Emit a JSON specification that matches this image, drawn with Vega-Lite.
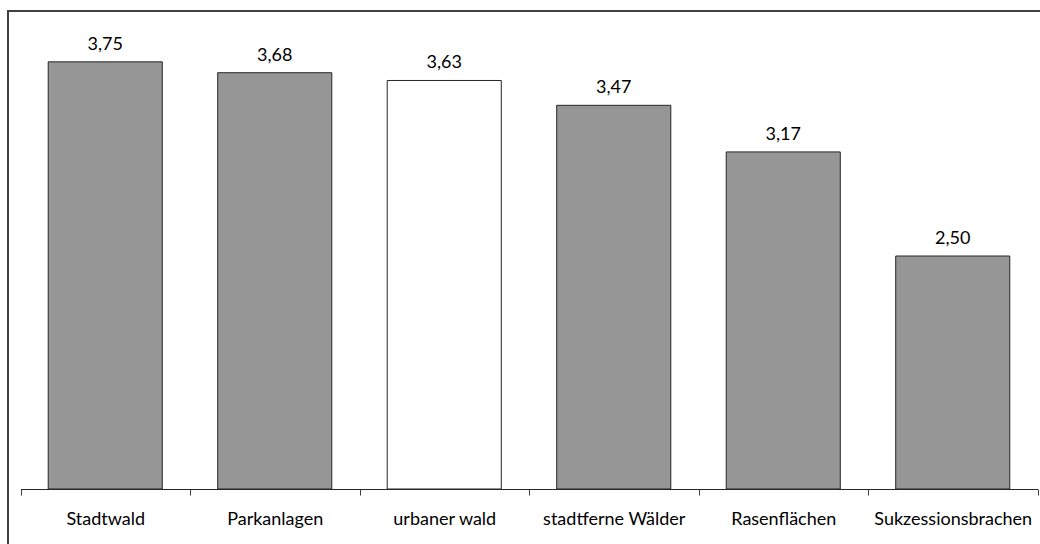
{
  "$schema": "https://vega.github.io/schema/vega-lite/v6.json",
  "autosize": {"type": "none"},
  "width": 1040,
  "height": 540,
  "padding": {"left": 8, "top": 11, "right": -8, "bottom": -7},
  "background": "white",
  "config": {
    "view": {"stroke": "#404040", "strokeWidth": 2},
    "locale": {"number": {"decimal": ",", "thousands": ".", "grouping": [3], "currency": ["", " €"]}},
    "font": "Lato"
  },
  "data": {
    "values": [
      {"Kategorie": "Stadtwald", "Wert": 3.75, "Typ": "a"},
      {"Kategorie": "Parkanlagen", "Wert": 3.68, "Typ": "a"},
      {"Kategorie": "urbaner wald", "Wert": 3.63, "Typ": "b"},
      {"Kategorie": "stadtferne Wälder", "Wert": 3.47, "Typ": "a"},
      {"Kategorie": "Rasenflächen", "Wert": 3.17, "Typ": "a"},
      {"Kategorie": "Sukzessionsbrachen", "Wert": 2.5, "Typ": "a"}
    ]
  },
  "encoding": {
    "x": {
      "field": "Kategorie",
      "type": "nominal",
      "sort": null,
      "scale": {"range": [12.5, 1029.5], "paddingInner": 0, "paddingOuter": 0},
      "axis": {
        "title": null,
        "grid": false,
        "labelAngle": 0,
        "tickBand": "extent",
        "offset": -62,
        "domainColor": "#262626",
        "domainWidth": 1,
        "tickColor": "#404040",
        "tickWidth": 1,
        "tickSize": 6,
        "labelFont": "Lato",
        "labelFontSize": 18,
        "labelColor": "#000000",
        "labelPadding": 15,
        "labelBaseline": "top"
      }
    },
    "y": {
      "field": "Wert",
      "type": "quantitative",
      "scale": {"domain": [1, 4], "range": [478, 12], "zero": false},
      "axis": null
    }
  },
  "layer": [
    {
      "mark": {"type": "bar", "width": {"band": 0.673}, "stroke": "#262626", "strokeWidth": 1},
      "encoding": {
        "y2": {"datum": 1},
        "fill": {
          "field": "Typ",
          "type": "nominal",
          "scale": {"domain": ["a", "b"], "range": ["#969696", "#ffffff"]},
          "legend": null
        }
      }
    },
    {
      "mark": {"type": "text", "baseline": "alphabetic", "dy": -12, "fontSize": 18, "font": "Lato", "color": "#000000"},
      "encoding": {
        "text": {"field": "Wert", "type": "quantitative", "format": ".2f"}
      }
    }
  ]
}
